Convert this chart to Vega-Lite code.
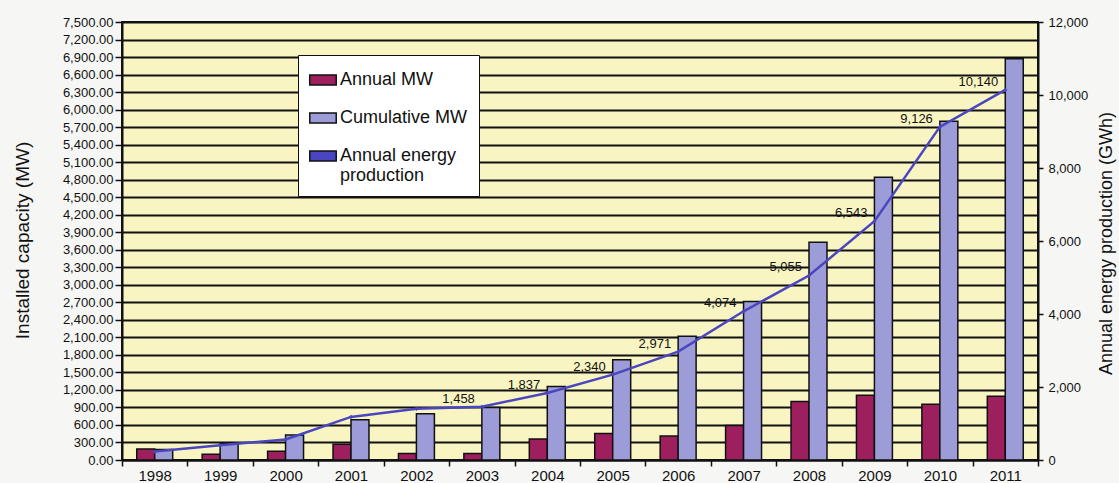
{
  "$schema": "https://vega.github.io/schema/vega-lite/v6.json",
  "width": 916,
  "height": 438,
  "autosize": {"type": "none"},
  "padding": {"left": 122, "top": 22, "right": 81, "bottom": 23},
  "background": "#f6f7f5",
  "config": {
    "font": "Liberation Sans",
    "view": {"fill": "#f9f5c2", "stroke": "#111111", "strokeWidth": 2},
    "axis": {"labelColor": "#111111", "titleColor": "#111111", "domainColor": "#111111", "tickColor": "#111111", "titleFontWeight": "normal"}
  },
  "datasets": {
    "bars": [
      {"year": "1998", "series": "Annual MW", "mw": 190},
      {"year": "1998", "series": "Cumulative MW", "mw": 180},
      {"year": "1999", "series": "Annual MW", "mw": 100},
      {"year": "1999", "series": "Cumulative MW", "mw": 280},
      {"year": "2000", "series": "Annual MW", "mw": 150},
      {"year": "2000", "series": "Cumulative MW", "mw": 430},
      {"year": "2001", "series": "Annual MW", "mw": 270},
      {"year": "2001", "series": "Cumulative MW", "mw": 690},
      {"year": "2002", "series": "Annual MW", "mw": 110},
      {"year": "2002", "series": "Cumulative MW", "mw": 790},
      {"year": "2003", "series": "Annual MW", "mw": 110},
      {"year": "2003", "series": "Cumulative MW", "mw": 900},
      {"year": "2004", "series": "Annual MW", "mw": 360},
      {"year": "2004", "series": "Cumulative MW", "mw": 1260},
      {"year": "2005", "series": "Annual MW", "mw": 455},
      {"year": "2005", "series": "Cumulative MW", "mw": 1715},
      {"year": "2006", "series": "Annual MW", "mw": 410},
      {"year": "2006", "series": "Cumulative MW", "mw": 2120},
      {"year": "2007", "series": "Annual MW", "mw": 590},
      {"year": "2007", "series": "Cumulative MW", "mw": 2715},
      {"year": "2008", "series": "Annual MW", "mw": 1000},
      {"year": "2008", "series": "Cumulative MW", "mw": 3730},
      {"year": "2009", "series": "Annual MW", "mw": 1110},
      {"year": "2009", "series": "Cumulative MW", "mw": 4840},
      {"year": "2010", "series": "Annual MW", "mw": 955},
      {"year": "2010", "series": "Cumulative MW", "mw": 5800},
      {"year": "2011", "series": "Annual MW", "mw": 1090},
      {"year": "2011", "series": "Cumulative MW", "mw": 6870}
    ],
    "energy": [
      {"year": "1998", "gwh": 232, "label": ""},
      {"year": "1999", "gwh": 403, "label": ""},
      {"year": "2000", "gwh": 563, "label": ""},
      {"year": "2001", "gwh": 1180, "label": ""},
      {"year": "2002", "gwh": 1404, "label": ""},
      {"year": "2003", "gwh": 1458, "label": "1,458"},
      {"year": "2004", "gwh": 1837, "label": "1,837"},
      {"year": "2005", "gwh": 2340, "label": "2,340"},
      {"year": "2006", "gwh": 2971, "label": "2,971"},
      {"year": "2007", "gwh": 4074, "label": "4,074"},
      {"year": "2008", "gwh": 5055, "label": "5,055"},
      {"year": "2009", "gwh": 6543, "label": "6,543"},
      {"year": "2010", "gwh": 9126, "label": "9,126"},
      {"year": "2011", "gwh": 10140, "label": "10,140"}
    ]
  },
  "layer": [
    {
      "data": {"name": "bars"},
      "mark": {"type": "bar", "stroke": "#111111", "strokeWidth": 1.5},
      "encoding": {
        "x": {
          "field": "year", "type": "ordinal",
          "scale": {"paddingInner": 0, "paddingOuter": 0},
          "axis": {"title": null, "labelAngle": 0, "labelFontSize": 15, "tickBand": "extent", "tickSize": 6, "domainWidth": 2, "tickWidth": 1.5, "labelPadding": 2, "grid": false}
        },
        "xOffset": {
          "field": "series", "type": "nominal",
          "sort": ["Annual MW", "Cumulative MW"],
          "scale": {"paddingInner": 0, "paddingOuter": 0.82}
        },
        "y": {
          "field": "mw", "type": "quantitative",
          "scale": {"domain": [0, 7500], "nice": false},
          "axis": {
            "title": "Installed capacity (MW)",
            "values": [0, 300, 600, 900, 1200, 1500, 1800, 2100, 2400, 2700, 3000, 3300, 3600, 3900, 4200, 4500, 4800, 5100, 5400, 5700, 6000, 6300, 6600, 6900, 7200, 7500],
            "format": ",.2f",
            "labelFontSize": 13,
            "tickSize": 7, "tickWidth": 1.5, "domainWidth": 2,
            "grid": true, "gridColor": "#111111", "gridWidth": 2, "gridOpacity": 1,
            "titleFontSize": 19, "titleX": -100, "titleY": 218, "titleAngle": 270, "titleAlign": "center", "titleBaseline": "middle"
          }
        },
        "color": {
          "field": "series", "type": "nominal",
          "scale": {"domain": ["Annual MW", "Cumulative MW", "Annual energy production"], "range": ["#9e1f5e", "#9c9cd8", "#4a46c0"]},
          "legend": {
            "title": null, "orient": "none", "legendX": 176, "legendY": 33,
            "fillColor": "#ffffff", "strokeColor": "#111111", "padding": 11,
            "labelFontSize": 18, "labelColor": "#111111", "labelLimit": 250, "labelOffset": 3,
            "symbolSize": 700, "rowPadding": 15,
            "symbolType": "M-1,-0.38H1V0.38H-1Z",
            "labelExpr": "datum.label == 'Annual energy production' ? ['Annual energy', 'production'] : datum.label"
          }
        }
      }
    },
    {
      "data": {"name": "energy"},
      "layer": [
        {
          "mark": {"type": "line", "strokeWidth": 2.5, "color": "#4a46c0", "point": {"filled": true, "shape": "diamond", "size": 18, "color": "#4a46c0"}},
          "encoding": {
            "x": {"field": "year", "type": "ordinal"},
            "y": {
              "field": "gwh", "type": "quantitative",
              "scale": {"domain": [0, 12000], "nice": false},
              "axis": {
                "orient": "right",
                "title": "Annual energy production (GWh)",
                "values": [0, 2000, 4000, 6000, 8000, 10000, 12000],
                "format": ",d",
                "labelFontSize": 13, "labelPadding": 5,
                "tickSize": 5, "tickWidth": 1.5, "domainWidth": 2, "grid": false,
                "titleFontSize": 18, "titleX": 68, "titleY": 221, "titleAngle": 270, "titleAlign": "center", "titleBaseline": "middle"
              }
            }
          }
        },
        {
          "mark": {"type": "text", "align": "right", "baseline": "middle", "dx": -7, "dy": -8, "fontSize": 13, "color": "#111111"},
          "encoding": {
            "x": {"field": "year", "type": "ordinal"},
            "y": {"field": "gwh", "type": "quantitative"},
            "text": {"field": "label"}
          }
        }
      ]
    }
  ],
  "resolve": {"scale": {"y": "independent"}}
}
